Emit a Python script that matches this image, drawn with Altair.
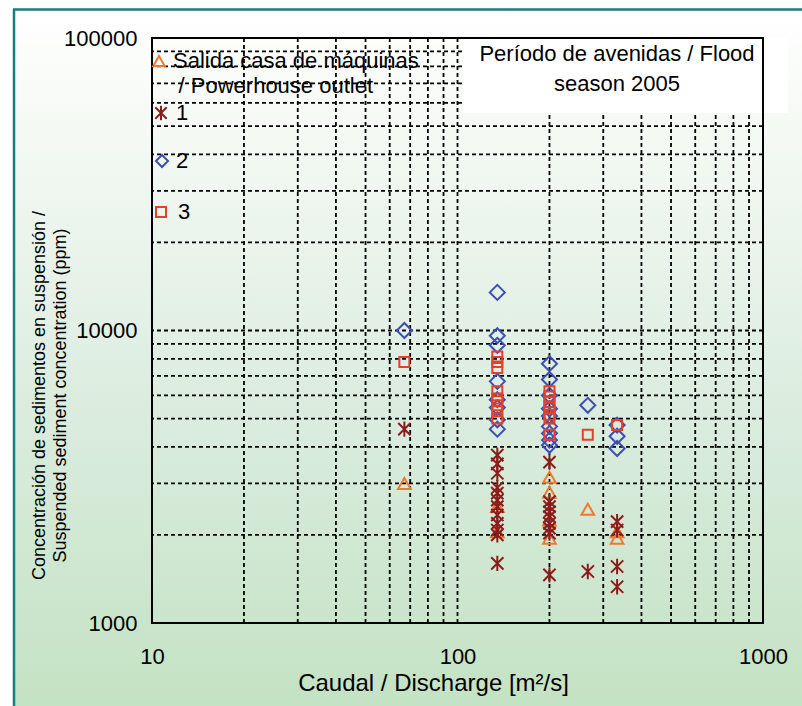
import altair as alt
import pandas as pd

FONT = "Liberation Sans"

# ---------------- data ----------------
salida_x = [67, 135, 135, 200, 200, 200, 200, 267, 333, 333]
salida_y = [3000, 2500, 2050, 3150, 2800, 2250, 1950, 2450, 2050, 1950]

s1_x = [67, 135, 135, 135, 135, 135, 135, 135, 135, 135, 135, 135, 135,
        200, 200, 200, 200, 200, 200, 200, 200, 200, 267, 333, 333, 333, 333]
s1_y = [4600, 3750, 3500, 3250, 2900, 2780, 2630, 2500, 2340, 2190, 2080, 2000, 1600,
        3550, 2600, 2500, 2400, 2310, 2190, 2110, 2030, 1460, 1500, 2220, 2080, 1560, 1330]

s2_x = [67, 135, 135, 135, 135, 135, 135, 135, 135,
        200, 200, 200, 200, 200, 200, 200, 200, 200, 267, 333, 333, 333]
s2_y = [10000, 13500, 9600, 8900, 6700, 5800, 5450, 4950, 4600,
        7700, 6800, 6000, 5400, 5100, 4700, 4450, 4220, 4050, 5550, 4750, 4350, 3950]

s3_x = [67, 135, 135, 135, 135, 135, 135, 135, 135,
        200, 200, 200, 200, 200, 200, 200, 267, 333]
s3_y = [7800, 8150, 7800, 7450, 6200, 5850, 5550, 5300, 5000,
        6200, 5950, 5700, 5450, 5150, 5000, 4400, 4400, 4750]

series_names = ["Salida casa de máquinas", "1", "2", "3"]
salida_second_line = "/ Powerhouse outlet"
series_colors = ["#ee7a30", "#8c1c1c", "#3e4fb3", "#e4402c"]
series_shapes = ["triangle-up", "M-1,-1L1,1M-1,1L1,-1M0,-1.25L0,1.25", "diamond", "square"]

x_grid = [20, 30, 40, 50, 60, 70, 80, 90, 100, 200, 300, 400, 500, 600, 700, 800, 900]
y_grid = [2000, 3000, 4000, 5000, 6000, 7000, 8000, 9000, 10000,
          20000, 30000, 40000, 50000, 60000, 70000, 80000, 90000]
x_ticks = [10, 100, 1000]
y_ticks = [1000, 10000, 100000]

x_title = "Caudal / Discharge [m²/s]"
y_title = ["Concentración de sedimentos en suspensión /",
           "Suspended sediment concentration (ppm)"]
note_text = "Período de avenidas / Flood\nseason 2005"

W, H = 611, 585

# ---------------- shared encodings ----------------
X = alt.X("x:Q", scale=alt.Scale(type="log", domain=[10, 1000], nice=False),
          axis=alt.Axis(values=x_ticks, format="d", grid=False, ticks=False, domain=False,
                        labelFontSize=22, labelFont=FONT, labelColor="black",
                        labelPadding=23, labelBaseline="top", labelFlush=False,
                        title=x_title, titleFont=FONT, titleFontSize=24,
                        titleFontWeight="normal", titleColor="black",
                        titleX=281, titleY=48, titleAlign="center", titleBaseline="top",
                        zindex=1))
Y = alt.Y("y:Q", scale=alt.Scale(type="log", domain=[1000, 100000], nice=False),
          axis=alt.Axis(values=y_ticks, format="d", grid=False, ticks=False, domain=False,
                        labelFontSize=22, labelFont=FONT, labelColor="black",
                        labelPadding=15, labelFlush=False, labelBaseline="middle",
                        title=y_title, titleFont=FONT, titleFontSize=18,
                        titleLineHeight=21, titleFontWeight="normal", titleColor="black",
                        titleAngle=270, titleX=-122, titleY=357, titleAlign="center",
                        titleBaseline="top", zindex=1))

one = pd.DataFrame({"k": [0]})

# background gradient covering the whole figure
bg = alt.Chart(one).mark_rect(
    fill=alt.Gradient(gradient="linear",
                      stops=[alt.GradientStop(color="#ffffff", offset=0),
                             alt.GradientStop(color="#f6faf5", offset=0.15),
                             alt.GradientStop(color="#dcede0", offset=0.55),
                             alt.GradientStop(color="#c4e2c4", offset=1)],
                      x1=0, x2=0, y1=0, y2=1),
    stroke=None
).encode(x=alt.value(-138), x2=alt.value(650), y=alt.value(-28), y2=alt.value(668))

teal_v = alt.Chart(one).mark_rule(color="#1b7c7c", strokeWidth=2.5).encode(
    x=alt.value(-138), y=alt.value(-29), y2=alt.value(668))
teal_h = alt.Chart(one).mark_rule(color="#1b7c7c", strokeWidth=2.5).encode(
    y=alt.value(-28.5), x=alt.value(-139), x2=alt.value(650))

xg = alt.Chart(pd.DataFrame({"x": x_grid})).mark_rule(
    color="black", strokeWidth=1.8, strokeDash=[4, 3]).encode(x=X)
yg = alt.Chart(pd.DataFrame({"y": y_grid})).mark_rule(
    color="black", strokeWidth=1.8, strokeDash=[4, 3]).encode(y=Y)

# white box behind the season note
note_box = alt.Chart(one).mark_rect(fill="white", stroke=None).encode(
    x=alt.value(311), x2=alt.value(636), y=alt.value(0), y2=alt.value(75))

legend_pos = [(-4, 12), (-2, 64), (-1, 112), (-2, 163)]
legend_sizes = [130, 130, 144, 100]
label_offsets = [3, 4, 3, 6]
point_sizes = [160, 150, 225, 100]


def series_layer(i, xs, ys):
    df = pd.DataFrame({"x": xs, "y": ys, "serie": series_names[i]})
    lx, ly = legend_pos[i]
    leg_kwargs = dict(orient="none", legendX=lx, legendY=ly, padding=0,
                      symbolSize=legend_sizes[i], symbolStrokeWidth=2,
                      labelFont=FONT, labelFontSize=22, labelColor="black",
                      labelOffset=label_offsets[i], labelLimit=400)
    if i == 0:
        leg_kwargs.update(title="\u200b" + "\u00a0" * 5 + salida_second_line,
                          titleOrient="bottom", titleFont=FONT, titleFontSize=22,
                          titleFontWeight="normal", titleColor="black",
                          titlePadding=4, titleLimit=400, titleBaseline="top")
    else:
        leg_kwargs.update(title=None)
    return alt.Chart(df).mark_point(filled=False, strokeWidth=2, size=point_sizes[i],
                                    opacity=1).encode(
        x=X, y=Y,
        color=alt.Color("serie:N",
                        scale=alt.Scale(domain=[series_names[i]], range=[series_colors[i]]),
                        legend=alt.Legend(**leg_kwargs)),
        shape=alt.Shape("serie:N",
                        scale=alt.Scale(domain=[series_names[i]], range=[series_shapes[i]]),
                        legend=alt.Legend(**leg_kwargs)),
    )


pts = [series_layer(0, salida_x, salida_y),
       series_layer(1, s1_x, s1_y),
       series_layer(2, s2_x, s2_y),
       series_layer(3, s3_x, s3_y)]

note = alt.Chart(pd.DataFrame({"t": [note_text]})).mark_text(
    font=FONT, fontSize=22, color="black", align="center", baseline="top",
    lineBreak="\n", lineHeight=30).encode(
    text="t:N", x=alt.value(465), y=alt.value(6))

frame = alt.Chart(one).mark_rect(fillOpacity=0, stroke="black", strokeWidth=2).encode(
    x=alt.value(0), x2=alt.value(W), y=alt.value(0), y2=alt.value(H))

chart = alt.layer(bg, teal_v, teal_h, xg, yg, *pts, note_box, frame, note).resolve_scale(
    color="independent", shape="independent"
).properties(
    width=W, height=H,
    autosize=alt.AutoSizeParams(type="none"),
    padding={"left": 152, "top": 38, "right": 39, "bottom": 83},
    background="white",
).configure_view(stroke=None)

chart.save("out.html", embed_options={"renderer": "svg", "actions": False})
